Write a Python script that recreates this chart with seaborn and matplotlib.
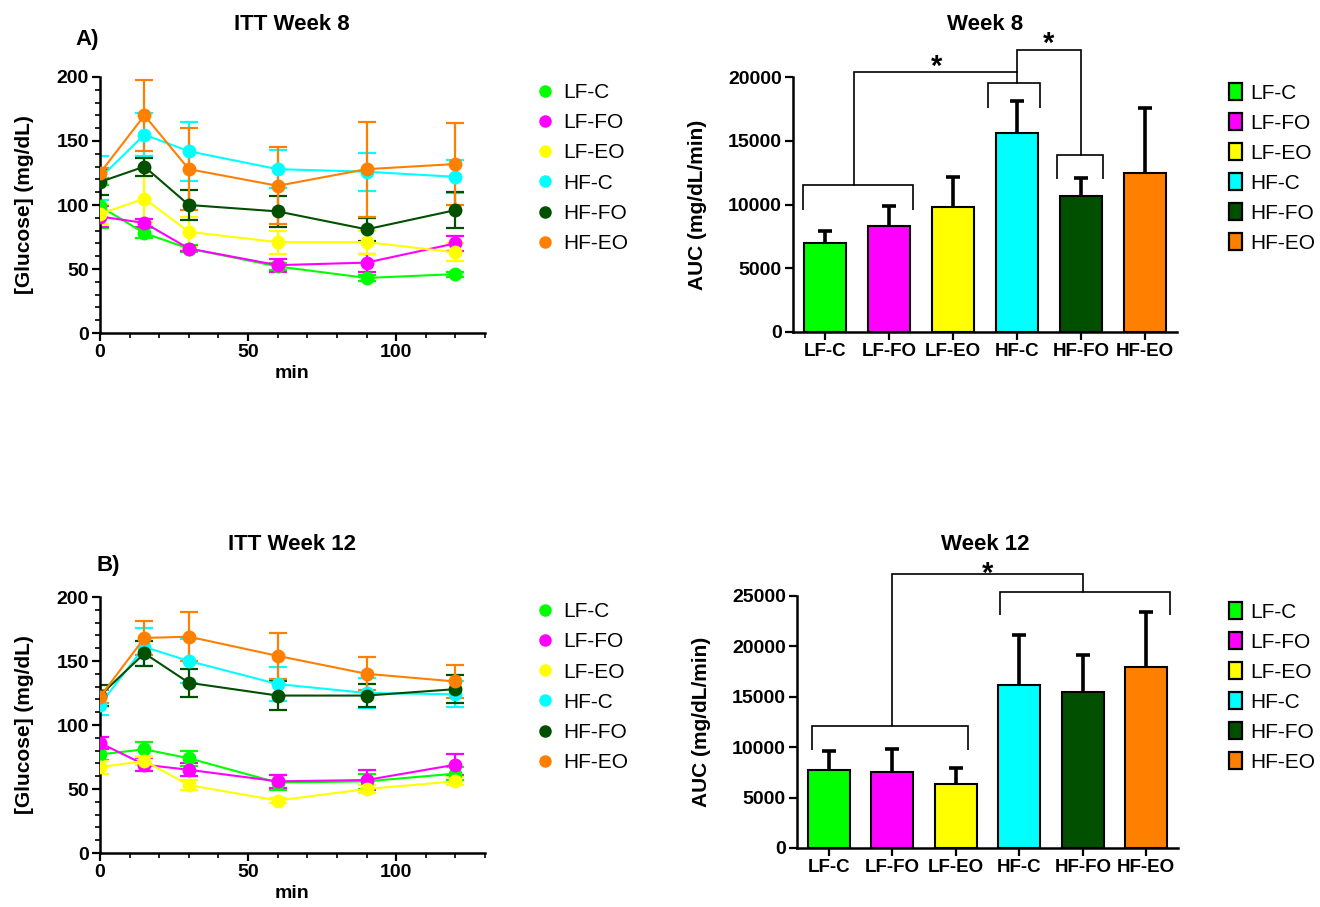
import numpy as np
import pandas as pd
import matplotlib
matplotlib.use("Agg")
import matplotlib.pyplot as plt
from matplotlib.lines import Line2D
from matplotlib.patches import Patch
from matplotlib.ticker import MultipleLocator
import seaborn as sns

sns.set_theme(style="ticks")
plt.rcParams['font.family'] = ['Liberation Sans', 'DejaVu Sans']
for k in ("text.color", "axes.labelcolor", "xtick.color", "ytick.color", "axes.edgecolor"):
    plt.rcParams[k] = "black"

groups = ["LF-C", "LF-FO", "LF-EO", "HF-C", "HF-FO", "HF-EO"]
colors = ["#00ff00", "#ff00ff", "#ffff00", "#00ffff", "#005000", "#ff8000"]
times = [0, 15, 30, 60, 90, 120]

# ITT week 8 (mean, SEM)
w8_mean = {
    "LF-C":  [99, 78, 66, 52, 43, 46],
    "LF-FO": [91, 86, 66, 53, 55, 70],
    "LF-EO": [93, 105, 79, 71, 71, 63],
    "HF-C":  [121, 155, 142, 128, 126, 122],
    "HF-FO": [118, 130, 100, 95, 81, 96],
    "HF-EO": [125, 170, 128, 115, 128, 132],
}
w8_sem = {
    "LF-C":  [17, 4, 3, 3, 2, 2],
    "LF-FO": [8, 3, 2, 5, 7, 6],
    "LF-EO": [8, 18, 12, 9, 9, 7],
    "HF-C":  [17, 17, 23, 15, 15, 13],
    "HF-FO": [10, 7, 12, 12, 9, 14],
    "HF-EO": [4, 28, 32, 30, 37, 32],
}
# ITT week 12 (mean, SEM)
w12_mean = {
    "LF-C":  [77, 81, 74, 55, 56, 62],
    "LF-FO": [86, 69, 65, 56, 57, 69],
    "LF-EO": [67, 72, 53, 41, 50, 56],
    "HF-C":  [116, 161, 150, 132, 125, 124],
    "HF-FO": [123, 156, 133, 123, 123, 128],
    "HF-EO": [122, 168, 169, 154, 140, 134],
}
w12_sem = {
    "LF-C":  [4, 6, 6, 6, 6, 5],
    "LF-FO": [5, 5, 5, 5, 8, 8],
    "LF-EO": [5, 3, 4, 2, 3, 3],
    "HF-C":  [8, 15, 17, 13, 12, 10],
    "HF-FO": [8, 10, 11, 11, 9, 11],
    "HF-EO": [5, 13, 19, 18, 13, 13],
}
# AUC
auc8 = [7000, 8350, 9800, 15600, 10700, 12500]
auc8_err = [950, 1560, 2370, 2530, 1410, 5030]
auc12 = [7700, 7560, 6340, 16200, 15500, 18000]
auc12_err = [1950, 2280, 1620, 4950, 3670, 5450]

W, H = 1320, 907
fig = plt.figure(figsize=(13.2, 9.07), dpi=100)
pal = dict(zip(groups, colors))
BOLD = dict(fontweight="bold")


def fx(px):
    return px / W


def fy(py):
    return 1 - py / H


def style_axes(ax, ticksize=14):
    sns.despine(ax=ax)
    for s in ("left", "bottom"):
        ax.spines[s].set_linewidth(1.8)
        ax.spines[s].set_color("black")
    ax.tick_params(which="major", length=6, width=1.6, labelsize=ticksize, colors="black",
                   direction="out", pad=2)
    ax.tick_params(which="minor", length=3.5, width=1.2, colors="black", direction="out")
    for lab in ax.get_xticklabels() + ax.get_yticklabels():
        lab.set_fontweight("bold")


def line_panel(rect, means, sems):
    ax = fig.add_axes(rect)
    rows = []
    for g in groups:
        for t, m in zip(times, means[g]):
            rows.append({"min": t, "glu": m, "group": g})
    df = pd.DataFrame(rows)
    for g in groups:
        ax.errorbar(times, means[g], yerr=sems[g], fmt="none", ecolor=pal[g],
                    elinewidth=1.6, capsize=6.5, capthick=1.6, zorder=2)
    sns.lineplot(data=df, x="min", y="glu", hue="group", hue_order=groups, palette=pal,
                 marker="o", markersize=10, markeredgewidth=0, linewidth=1.5,
                 errorbar=None, legend=False, ax=ax, zorder=3)
    ax.set_xlim(0, 130)
    ax.set_ylim(0, 200)
    ax.set_xticks([0, 50, 100])
    ax.set_yticks([0, 50, 100, 150, 200])
    ax.xaxis.set_minor_locator(MultipleLocator(10))
    ax.yaxis.set_minor_locator(MultipleLocator(10))
    ax.set_xlabel("min", fontsize=14, labelpad=3, **BOLD)
    ax.set_ylabel("[Glucose] (mg/dL)", fontsize=15, labelpad=16, **BOLD)
    style_axes(ax)
    return ax


def bar_panel(rect, vals, errs, ymax, step):
    ax = fig.add_axes(rect)
    df = pd.DataFrame({"group": groups, "auc": vals})
    sns.barplot(data=df, x="group", y="auc", hue="group", hue_order=groups, order=groups,
                palette=pal, saturation=1, edgecolor="black", linewidth=1.5, width=0.66,
                legend=False, ax=ax, zorder=2)
    xs = np.arange(len(groups))
    tops = np.asarray(vals) + np.asarray(errs)
    ax.vlines(xs, vals, tops, color="black", lw=2.6, zorder=1)
    ax.hlines(tops, xs - 0.11, xs + 0.11, color="black", lw=2.6, zorder=1)
    ax.set_xlim(-0.5, 5.5)
    ax.set_ylim(0, ymax)
    ax.set_yticks(np.arange(0, ymax + 1, step))
    ax.set_xlabel("")
    ax.set_ylabel("AUC (mg/dL/min)", fontsize=15, labelpad=15, **BOLD)
    style_axes(ax)
    ax.tick_params(axis="x", labelsize=13.5)
    for lab in ax.get_xticklabels():
        lab.set_fontweight("bold")
    return ax


def bracket(ax, x0, x1, ytop, ylow):
    ax.plot([x0, x0, x1, x1], [ylow, ytop, ytop, ylow], color="black", lw=1.2,
            clip_on=False, solid_capstyle="butt", solid_joinstyle="miter")


def link(ax, pts):
    xs, ys = zip(*pts)
    ax.plot(xs, ys, color="black", lw=1.2, clip_on=False, solid_joinstyle="miter")


def star(ax, x, y):
    ax.text(x, y, "*", ha="center", va="baseline", fontsize=21, fontweight="bold",
            clip_on=False)


# ---- panels ----
ax1 = line_panel([fx(100), fy(333), fx(385), (333 - 77) / H], w8_mean, w8_sem)
ax2 = line_panel([fx(100), fy(853), fx(385), (853 - 597) / H], w12_mean, w12_sem)
ax3 = bar_panel([fx(793), fy(332), fx(384), (332 - 77) / H], auc8, auc8_err, 20000, 5000)
ax4 = bar_panel([fx(797), fy(848), fx(381), (848 - 596) / H], auc12, auc12_err, 25000, 5000)

# week 8 significance brackets
bracket(ax3, -0.35, 1.38, 11550, 9600)
bracket(ax3, 2.55, 3.36, 19530, 17600)
bracket(ax3, 3.63, 4.34, 13900, 11970)
link(ax3, [(0.45, 11550), (0.45, 20400), (3.0, 20400)])
link(ax3, [(3.0, 19530), (3.0, 22140), (4.0, 22140), (4.0, 13900)])
star(ax3, 1.75, 20150)
star(ax3, 3.5, 21950)

# week 12 significance brackets
bracket(ax4, -0.27, 2.2, 12120, 9680)
bracket(ax4, 2.7, 5.37, 25360, 23085)
link(ax4, [(1.0, 12120), (1.0, 27150), (4.0, 27150), (4.0, 25360)])
star(ax4, 2.5, 26400)

# ---- titles / labels ----
fig.text(fx(292), fy(25), "ITT Week 8", ha="center", va="center", fontsize=16, **BOLD)
fig.text(fx(292), fy(545), "ITT Week 12", ha="center", va="center", fontsize=16, **BOLD)
fig.text(fx(985), fy(25), "Week 8", ha="center", va="center", fontsize=16, **BOLD)
fig.text(fx(985), fy(544), "Week 12", ha="center", va="center", fontsize=16, **BOLD)
fig.text(fx(75), fy(39), "A)", ha="left", va="center", fontsize=16, **BOLD)
fig.text(fx(97), fy(565), "B)", ha="left", va="center", fontsize=16, **BOLD)

# ---- legends ----
line_handles = [Line2D([], [], marker="o", linestyle="none", markersize=9,
                       markerfacecolor=c, markeredgewidth=0) for c in colors]
bar_handles = [Patch(facecolor=c, edgecolor="black", linewidth=1.6) for c in colors]
leg_kw = dict(frameon=False, fontsize=15, borderaxespad=0,
              borderpad=0, bbox_transform=fig.transFigure, loc="upper left")
for top in (83, 602):
    fig.legend(line_handles, groups, bbox_to_anchor=(fx(537), fy(top)),
               handlelength=0.8, handletextpad=0.45, labelspacing=0.54, **leg_kw)
    fig.legend(bar_handles, groups, bbox_to_anchor=(fx(1229), fy(top)),
               handlelength=0.63, handleheight=0.87, handletextpad=0.4,
               labelspacing=0.5, **leg_kw)

fig.savefig("out.png", dpi=100)
